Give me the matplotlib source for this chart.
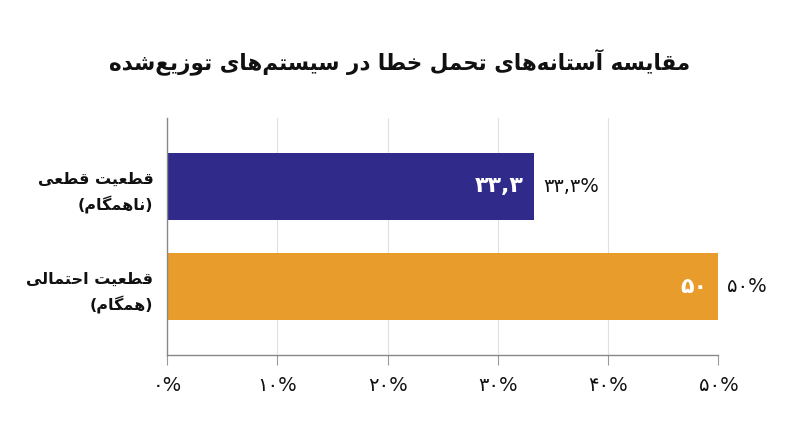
import matplotlib
matplotlib.use("Agg")
import matplotlib.pyplot as plt

# data
title = "مقایسه آستانه‌های تحمل خطا در سیستم‌های توزیع‌شده"
categories = ["قطعیت قطعی\n(ناهمگام)", "قطعیت احتمالی\n(همگام)"]
values = [33.3, 50]
inner_labels = ["۳۳,۳", "۵۰"]
outer_labels = ["۳۳,۳%", "۵۰%"]
xticks = [0, 10, 20, 30, 40, 50]
xtick_labels = ["۰%", "۱۰%", "۲۰%", "۳۰%", "۴۰%", "۵۰%"]
colors = ["#302a8a", "#e79c2b"]

# matplotlib does no arabic shaping, so do it by hand
DUAL = {'ب': 0xFE8F, 'ت': 0xFE95, 'ح': 0xFEA1, 'خ': 0xFEA5, 'س': 0xFEB1,
        'ش': 0xFEB5, 'ط': 0xFEC1, 'ع': 0xFEC9, 'ق': 0xFED5, 'ل': 0xFEDD,
        'م': 0xFEE1, 'ن': 0xFEE5, 'ه': 0xFEE9, 'ی': 0xFBFC, 'گ': 0xFB92}
RIGHT = {'ا': 0xFE8D, 'آ': 0xFE81, 'د': 0xFEA9, 'ر': 0xFEAD, 'ز': 0xFEAF,
         'و': 0xFEED}
MIRROR = {'(': ')', ')': '('}


def shape_line(s):
    out = []
    for i, ch in enumerate(s):
        prev = s[i - 1] if i > 0 else ''
        nxt = s[i + 1] if i < len(s) - 1 else ''
        pj = prev in DUAL
        nj = nxt in DUAL or nxt in RIGHT
        if ch in DUAL:
            if pj and nj:
                k = 3
            elif pj:
                k = 1
            elif nj:
                k = 2
            else:
                k = 0
            out.append(chr(DUAL[ch] + k))
        elif ch in RIGHT:
            out.append(chr(RIGHT[ch] + (1 if pj else 0)))
        elif ch == '\u200c':
            continue
        else:
            out.append(MIRROR.get(ch, ch))
    return ''.join(reversed(out))


def fa(s):
    return '\n'.join(shape_line(l) for l in s.split('\n'))


plt.rcParams['font.family'] = ['DejaVu Sans']

fig = plt.figure(figsize=(8, 4.47), dpi=100)
ax = fig.add_axes([0.209, 0.206, 0.689, 0.530])

y = list(range(len(categories)))
ax.barh(y, values, height=0.667, color=colors, zorder=2)
ax.set_ylim(1.68, -0.68)
ax.set_xlim(0, 50)

for i, v in enumerate(values):
    ax.text(v - 1.0, i, inner_labels[i], ha='right', va='center',
            color='white', fontsize=16, fontweight='bold', zorder=3)
    ax.text(v + 0.8, i, outer_labels[i], ha='left', va='center',
            color='#111111', fontsize=14, zorder=3)

ax.set_xticks(xticks)
ax.set_xticklabels(xtick_labels, fontsize=14, color='#111111')
ax.set_yticks(y)
ax.set_yticklabels([fa(c) for c in categories], fontsize=11.5,
                   fontweight='bold', color='#111111', multialignment='right',
                   linespacing=1.65)
ax.tick_params(axis='y', length=0, pad=10)
ax.tick_params(axis='x', length=7, color='#999999', pad=8)

ax.grid(axis='x', color='#e0e0e0', linewidth=0.8, zorder=0)
for side in ['top', 'right']:
    ax.spines[side].set_visible(False)
for side in ['left', 'bottom']:
    ax.spines[side].set_color('#888888')
    ax.spines[side].set_linewidth(1.0)

fig.text(0.5, 0.862, fa(title), ha='center', va='center', fontsize=15.5,
         fontweight='bold', color='#111111')

fig.savefig("out.png", dpi=100, facecolor='white')
